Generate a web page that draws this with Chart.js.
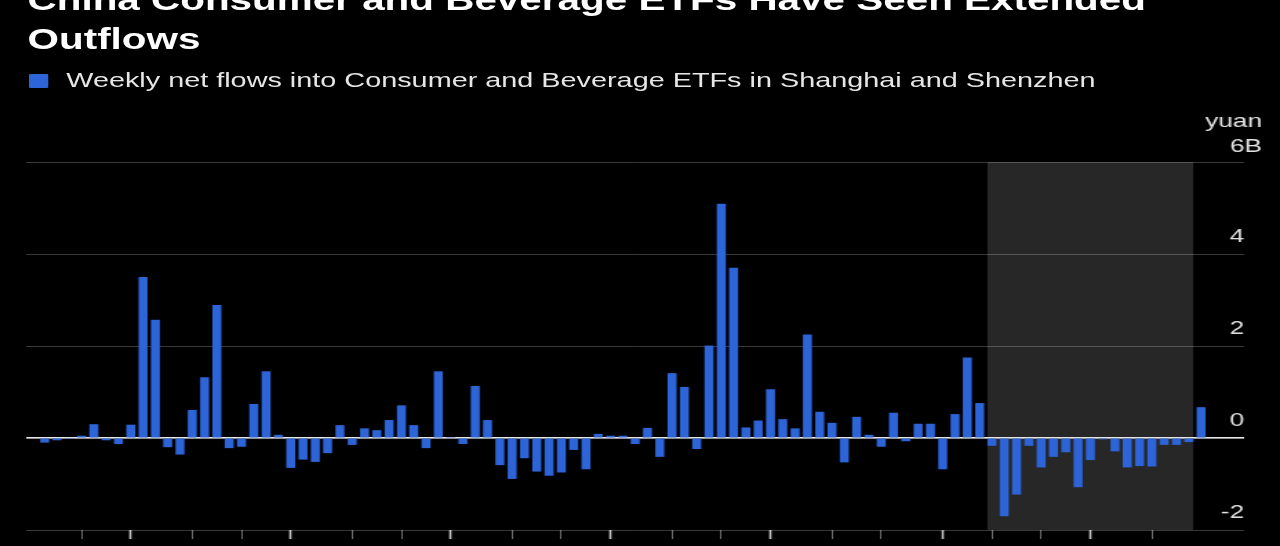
<!DOCTYPE html>
<html>
<head>
<meta charset="utf-8">
<script src="https://cdn.jsdelivr.net/npm/chart.js@4/dist/chart.umd.min.js"></script>
<style>
  html, body { margin: 0; padding: 0; background: #000; overflow: hidden; }
  body { width: 1280px; height: 546px; }
  #stage {
    position: absolute; left: 0; top: 0;
    width: 928px; height: 546px;
    transform: scaleX(1.37931); transform-origin: 0 0;
    font-family: "Liberation Sans", Arial, Helvetica, sans-serif;
  }
  #title {
    position: absolute; left: 20px; top: -19.7px;
    font-weight: bold; font-size: 29.3px; line-height: 39px;
    color: #fff; white-space: nowrap; z-index: 2;
  }
  #legend {
    position: absolute; left: 21px; top: 68px; z-index: 2;
    font-size: 20.9px; line-height: 24px; color: #e6e6e6; white-space: nowrap;
  }
  #legend .sw {
    position: absolute; left: 0; top: 6px; width: 14px; height: 14px;
    background: #2d64d7; border-radius: 1px;
  }
  #legend .tx { position: absolute; left: 27px; top: 0; }
  #wrap { position: absolute; left: 0; top: 0; width: 928px; height: 546px; }
</style>
</head>
<body>
<div id="stage">
  <div id="title">China Consumer and Beverage ETFs Have Seen Extended<br>Outflows</div>
  <div id="legend"><span class="sw"></span><span class="tx">Weekly net flows into Consumer and Beverage ETFs in Shanghai and Shenzhen</span></div>
  <div id="wrap"><canvas id="c"></canvas></div>
</div>
<script>
// Weekly net flows, billion yuan
const flows = [
  -0.10, -0.05, -0.02, 0.05, 0.30, -0.05, -0.13, 0.29, 3.50, 2.57,
  -0.20, -0.36, 0.61, 1.32, 2.89, -0.22, -0.19, 0.74, 1.45, 0.07,
  -0.65, -0.47, -0.52, -0.33, 0.28, -0.15, 0.21, 0.17, 0.39, 0.71,
  0.28, -0.22, 1.45, 0.02, -0.13, 1.13, 0.39, -0.59, -0.89, -0.44,
  -0.73, -0.82, -0.75, -0.26, -0.68, 0.09, 0.05, 0.05, -0.13, 0.22,
  -0.41, 1.41, 1.11, -0.24, 2.01, 5.09, 3.70, 0.23, 0.38, 1.06,
  0.41, 0.21, 2.25, 0.57, 0.33, -0.53, 0.46, 0.07, -0.19, 0.55,
  -0.07, 0.31, 0.31, -0.68, 0.52, 1.75, 0.76, -0.17, -1.70, -1.23,
  -0.17, -0.64, -0.41, -0.31, -1.07, -0.48, -0.03, -0.29, -0.64, -0.61,
  -0.62, -0.15, -0.15, -0.09, 0.67
];
// empty weeks before / after the series on the time axis
const leadEmpty = [null];
const trailEmpty = [null, null, null];
const values = leadEmpty.concat(flows, trailEmpty);
const weeks = values.map((_, i) => 'W' + i);

// axis tick marks (category positions) : quarter starts and months
const majorTicks = [8, 21, 34, 47, 60, 74, 86];
const minorTicks = [4, 13, 17, 26, 30, 39, 43, 52, 56, 65, 69, 78, 82, 91];
// highlighted period (category positions, inclusive)
const shadeFrom = 78, shadeTo = 94;

const yTicks = [-2, 0, 2, 4, 6];
const yMin = -2, yMax = 6;

const BAR = '#2d64d7';
const GRID = 'rgba(255,255,255,0.22)';
const LABEL = '#e2e2e2';

Chart.defaults.font.family = '"Liberation Sans", Arial, Helvetica, sans-serif';

const shadePlugin = {
  id: 'shade',
  beforeDraw(chart) {
    const meta = chart.getDatasetMeta(0);
    const a = meta.data[shadeFrom], b = meta.data[shadeTo];
    if (!a || !b) return;
    const area = chart.chartArea;
    const l = a.x - a.width / 2, r = b.x + b.width / 2;
    const ctx = chart.ctx;
    ctx.save();
    ctx.fillStyle = '#272727';
    ctx.fillRect(l, area.top, r - l, area.bottom - area.top);
    ctx.restore();
  }
};

const flatY = (s) => { s.width = 0; s.paddingTop = 0; s.paddingBottom = 0; };

new Chart(document.getElementById('c'), {
  type: 'bar',
  data: {
    labels: weeks,
    datasets: [{
      label: 'Weekly net flows into Consumer and Beverage ETFs in Shanghai and Shenzhen',
      data: values,
      backgroundColor: BAR,
      borderWidth: 0,
      barPercentage: 0.73,
      categoryPercentage: 1.0
    }]
  },
  options: {
    responsive: true,
    maintainAspectRatio: false,
    animation: false,
    layout: { padding: { top: 162, left: 19, right: 26, bottom: 0 } },
    plugins: { legend: { display: false }, tooltip: { enabled: false } },
    scales: {
      x: {
        type: 'category',
        offset: true,
        border: { display: false },
        grid: {
          display: true,
          offset: false,
          drawOnChartArea: false,
          drawTicks: true,
          tickLength: 9,
          color: 'rgba(0,0,0,0)',
          tickColor: (c) => majorTicks.includes(c.index) ? '#c4c4c4' : (minorTicks.includes(c.index) ? '#6e6e6e' : 'rgba(0,0,0,0)'),
          tickWidth: (c) => majorTicks.includes(c.index) ? 1.6 : 1
        },
        ticks: { display: false, autoSkip: false },
        afterFit: (s) => { s.height = 16; }
      },
      y: {
        position: 'right',
        min: yMin, max: yMax,
        afterBuildTicks: (s) => { s.ticks = yTicks.map(v => ({ value: v })); },
        border: { display: false },
        grid: { color: GRID, lineWidth: 1, drawTicks: false },
        ticks: {
          mirror: true, padding: 0, labelOffset: -17,
          color: LABEL, font: { size: 19 },
          callback: (v) => v === 6 ? '' : String(v)
        },
        afterFit: flatY
      },
      y2: {
        position: 'right',
        min: yMin, max: yMax,
        z: 1,
        afterBuildTicks: (s) => { s.ticks = yTicks.map(v => ({ value: v })); },
        border: { display: false },
        grid: {
          drawTicks: false,
          color: (c) => c.tick && c.tick.value === 0 ? '#e6e6e6' : 'rgba(0,0,0,0)',
          lineWidth: (c) => c.tick && c.tick.value === 0 ? 1.6 : 0
        },
        ticks: {
          mirror: true, padding: 13, labelOffset: -27.5,
          color: LABEL, font: { size: 19, lineHeight: 1.316 },
          callback: (v) => v === 6 ? ['yuan', '6B'] : ''
        },
        afterFit: flatY
      }
    }
  },
  plugins: [shadePlugin]
});
</script>
</body>
</html>
